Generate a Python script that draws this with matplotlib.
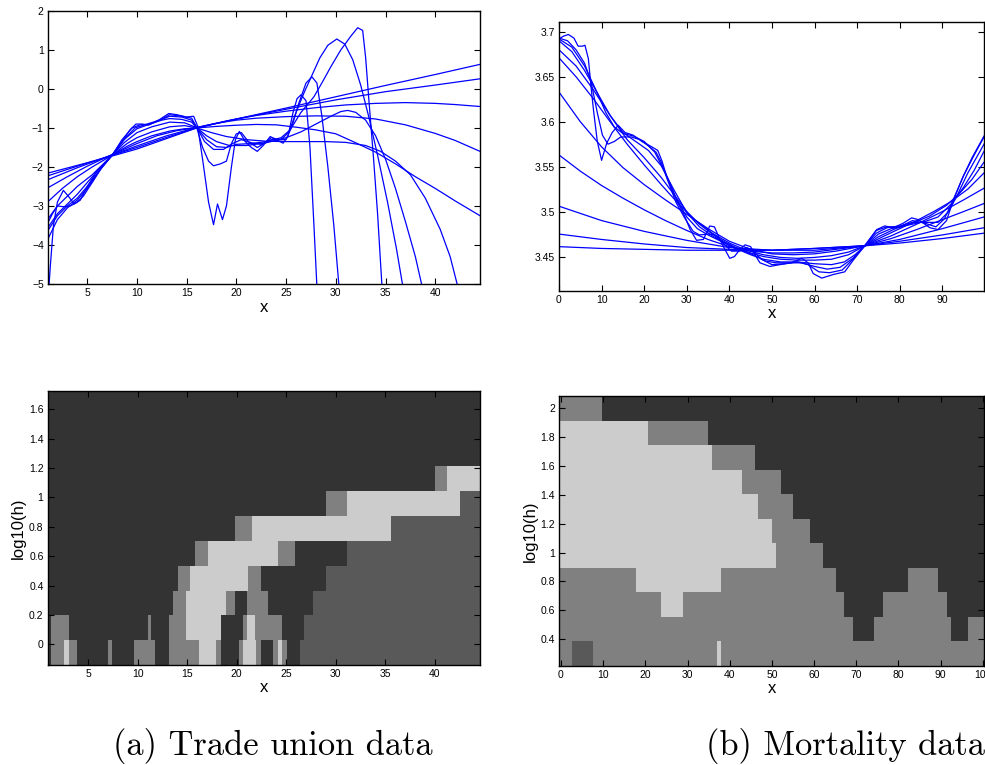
import numpy as np
import matplotlib
matplotlib.use("Agg")
import matplotlib.pyplot as plt
from matplotlib.colors import ListedColormap

# ---- family of smooths, trade union data (one list of (x, y) per bandwidth, small h first)
union_fits = [
    [(1.0, -5.6), (1.3, -4.5), (1.6, -3.5), (2.0, -2.9), (2.6, -2.6), (3.1, -2.75), (3.7, -2.95),
     (4.3, -2.85), (5.0, -2.5), (6.0, -2.1), (7.5, -1.7), (8.5, -1.35), (9.3, -1.05), (9.9, -0.9),
     (10.5, -0.9), (11.2, -0.92), (12.3, -0.78), (13.2, -0.63), (14.0, -0.66), (15.0, -0.72),
     (15.7, -0.7), (16.1, -0.95), (16.6, -1.8), (17.2, -2.9), (17.7, -3.48), (18.1, -2.95),
     (18.6, -3.35), (19.0, -3.0), (19.5, -2.0), (19.9, -1.3), (20.3, -1.09), (20.9, -1.35),
     (21.5, -1.5), (22.1, -1.6), (22.7, -1.45), (23.4, -1.22), (24.0, -1.3), (24.7, -1.39),
     (25.2, -1.2), (25.7, -0.6), (26.1, -0.25), (26.5, -0.15), (27.0, -0.3), (27.4, -1.5),
     (27.8, -3.5), (28.2, -5.6)],
    [(1.0, -3.45), (1.5, -3.2), (2.0, -3.0), (2.6, -3.02), (3.3, -3.0), (4.0, -2.9), (4.6, -2.75),
     (5.5, -2.4), (6.5, -2.0), (7.5, -1.7), (8.5, -1.3), (9.5, -1.0), (10.3, -0.92), (11.2, -0.92),
     (12.3, -0.8), (13.3, -0.66), (14.5, -0.7), (15.5, -0.75), (16.0, -0.98), (16.6, -1.5),
     (17.2, -1.85), (17.7, -1.97), (18.4, -1.92), (19.0, -1.85), (19.5, -1.4), (20.0, -1.15),
     (20.5, -1.12), (21.2, -1.35), (22.1, -1.5), (22.8, -1.4), (23.5, -1.25), (24.3, -1.3),
     (25.0, -1.3), (25.6, -0.95), (26.3, -0.35), (27.0, 0.15), (27.6, 0.31), (28.1, 0.15),
     (28.6, -0.7), (29.2, -2.0), (29.8, -3.5), (30.4, -5.3)],
    [(1.0, -3.87), (2.0, -3.35), (3.0, -3.05), (4.0, -2.85), (5.0, -2.55), (6.2, -2.1), (7.5, -1.7),
     (8.7, -1.3), (9.8, -1.0), (11.0, -0.9), (12.3, -0.8), (13.3, -0.7), (14.5, -0.72), (15.5, -0.8),
     (16.0, -0.98), (16.8, -1.35), (17.7, -1.55), (18.7, -1.55), (19.6, -1.4), (20.5, -1.3),
     (21.5, -1.38), (22.5, -1.42), (23.5, -1.3), (24.5, -1.3), (25.3, -1.1), (26.0, -0.6),
     (26.8, -0.1), (27.6, 0.35), (28.4, 0.8), (29.2, 1.12), (30.1, 1.28), (30.9, 1.15),
     (31.7, 0.75), (32.5, 0.1), (33.3, -0.7), (34.2, -1.7), (35.2, -2.9), (36.1, -4.1), (36.9, -5.3)],
    [(1.0, -3.65), (2.0, -3.25), (3.0, -3.0), (4.0, -2.8), (5.0, -2.5), (6.2, -2.1), (7.5, -1.7),
     (8.7, -1.3), (10.0, -1.02), (11.5, -0.88), (12.5, -0.8), (13.3, -0.76), (14.5, -0.78),
     (15.5, -0.85), (16.0, -0.99), (17.0, -1.3), (18.0, -1.48), (19.0, -1.5), (20.0, -1.42),
     (21.5, -1.4), (23.0, -1.35), (24.5, -1.25), (25.4, -1.05), (26.5, -0.6), (27.8, -0.2),
     (28.7, 0.2), (29.5, 0.57), (30.5, 1.0), (31.5, 1.35), (32.2, 1.57), (32.7, 1.5), (33.0, 0.8),
     (33.3, -0.2), (33.8, -1.8), (34.2, -3.2), (34.7, -5.3)],
    [(1.0, -3.57), (2.0, -3.2), (3.0, -2.95), (4.0, -2.7), (5.0, -2.4), (6.2, -2.05), (7.5, -1.7),
     (8.7, -1.38), (10.0, -1.12), (11.5, -0.97), (13.3, -0.85), (14.8, -0.87), (16.0, -0.99),
     (17.0, -1.2), (18.0, -1.35), (19.3, -1.45), (21.0, -1.45), (23.0, -1.38), (25.0, -1.25),
     (26.5, -1.1), (28.0, -0.9), (29.5, -0.7), (30.5, -0.58), (31.2, -0.55), (32.0, -0.6),
     (33.0, -0.8), (34.0, -1.2), (35.0, -1.8), (36.0, -2.55), (37.0, -3.4), (38.0, -4.3), (38.8, -5.2)],
    [(1.0, -3.35), (2.0, -3.0), (3.0, -2.75), (4.0, -2.5), (5.5, -2.2), (7.5, -1.7), (9.0, -1.4),
     (10.0, -1.25), (11.5, -1.1), (13.3, -0.97), (14.8, -0.94), (16.0, -1.0), (17.5, -1.12),
     (19.0, -1.22), (21.0, -1.3), (23.0, -1.34), (25.0, -1.35), (27.0, -1.35), (29.0, -1.35),
     (31.0, -1.37), (33.0, -1.45), (34.5, -1.6), (36.0, -1.85), (37.5, -2.2), (39.0, -2.8),
     (40.5, -3.6), (41.5, -4.3), (42.4, -5.2)],
    [(1.0, -2.90), (2.5, -2.55), (4.0, -2.25), (5.5, -2.0), (7.5, -1.7), (9.0, -1.47), (10.0, -1.35),
     (11.5, -1.2), (13.3, -1.08), (14.8, -1.02), (16.0, -1.0), (18.0, -0.96), (20.0, -0.93),
     (22.0, -0.91), (24.0, -0.92), (26.0, -0.98), (28.0, -1.05), (30.0, -1.15), (32.0, -1.38),
     (34.0, -1.62), (36.0, -1.92), (38.0, -2.25), (40.0, -2.55), (42.0, -2.87), (44.5, -3.25)],
    [(1.0, -2.54), (3.0, -2.25), (5.0, -1.98), (7.5, -1.68), (10.0, -1.4), (12.0, -1.2), (14.0, -1.07),
     (16.0, -0.99), (18.0, -0.88), (20.0, -0.8), (22.0, -0.75), (25.0, -0.71), (28.0, -0.69),
     (31.0, -0.7), (34.0, -0.77), (37.0, -0.92), (40.0, -1.14), (42.0, -1.32), (44.5, -1.6)],
    [(1.0, -2.33), (4.0, -2.02), (7.5, -1.69), (10.0, -1.46), (13.0, -1.2), (16.0, -0.99),
     (19.0, -0.82), (22.0, -0.68), (25.0, -0.57), (28.0, -0.48), (31.0, -0.41), (34.0, -0.37),
     (37.0, -0.35), (40.0, -0.37), (42.0, -0.4), (44.5, -0.45)],
    [(1.0, -2.23), (4.0, -1.98), (7.5, -1.7), (10.0, -1.5), (13.0, -1.24), (16.0, -1.0), (20.0, -0.77),
     (25.0, -0.52), (30.0, -0.28), (35.0, -0.07), (40.0, 0.1), (44.5, 0.26)],
    [(1.0, -2.16), (4.0, -1.96), (7.5, -1.72), (10.0, -1.54), (13.0, -1.27), (16.0, -1.0), (20.0, -0.77),
     (25.0, -0.49), (30.0, -0.2), (35.0, 0.09), (40.0, 0.37), (44.5, 0.63)],
]

# ---- family of smooths, mortality data
mort_fits = [
    [(0, 3.692), (1, 3.695), (2.2, 3.697), (3.5, 3.693), (4.5, 3.684), (5.5, 3.684), (6.1, 3.685),
     (6.9, 3.67), (7.5, 3.64), (8.1, 3.613), (9, 3.578), (10, 3.557), (11.2, 3.576), (12.5, 3.588),
     (13.9, 3.596), (15.5, 3.588), (17.4, 3.585), (19.5, 3.578), (21.8, 3.572), (23.2, 3.568),
     (24.2, 3.556), (25.3, 3.539), (27.6, 3.513), (29.5, 3.495), (30.8, 3.48), (32.3, 3.468),
     (33.9, 3.469), (34.8, 3.478), (35.4, 3.484), (36.5, 3.483), (37.5, 3.472), (38.6, 3.461),
     (40.1, 3.448), (41.2, 3.45), (42.5, 3.458), (43.7, 3.463), (45, 3.461), (46, 3.452),
     (47.2, 3.443), (49.5, 3.439), (51.9, 3.441), (54.5, 3.443), (57, 3.448), (58.5, 3.443),
     (59.7, 3.431), (61.7, 3.426), (64.4, 3.43), (67.1, 3.433), (69.1, 3.446), (71.8, 3.462),
     (74.6, 3.48), (76.5, 3.484), (78.5, 3.482), (80.8, 3.487), (82.8, 3.493), (84.4, 3.491),
     (87.1, 3.482), (89, 3.48), (91, 3.49), (92.6, 3.513), (94.9, 3.539), (97, 3.56), (99.8, 3.584)],
    [(0, 3.693), (2, 3.69), (4, 3.68), (6, 3.665), (7.5, 3.645), (9, 3.61), (10.2, 3.585),
     (11.5, 3.575), (13, 3.578), (14.5, 3.583), (17, 3.583), (19, 3.58), (21, 3.573), (22.8, 3.566),
     (24, 3.555), (25.5, 3.535), (27.5, 3.51), (29.5, 3.493), (31.5, 3.478), (33, 3.474),
     (35, 3.475), (36.5, 3.474), (38.5, 3.465), (40.5, 3.456), (42.5, 3.456), (44, 3.46),
     (45.5, 3.457), (47.5, 3.447), (50, 3.441), (53, 3.442), (56, 3.444), (58.5, 3.441),
     (61, 3.433), (63.5, 3.432), (66.5, 3.435), (69, 3.447), (71.8, 3.462), (74.5, 3.479),
     (77, 3.483), (80, 3.483), (83, 3.49), (86, 3.487), (88.5, 3.483), (90.5, 3.492),
     (92.5, 3.512), (95, 3.54), (97.5, 3.563), (99.8, 3.583)],
    [(0, 3.692), (3, 3.683), (6, 3.662), (9, 3.632), (11, 3.61), (13, 3.594), (15, 3.587),
     (17.5, 3.584), (20, 3.578), (22.5, 3.566), (25, 3.543), (27.5, 3.515), (30, 3.494),
     (32.5, 3.481), (35, 3.474), (38, 3.467), (41, 3.46), (43.5, 3.456), (46, 3.451), (48.5, 3.445),
     (51, 3.443), (54, 3.443), (57, 3.443), (60, 3.439), (63, 3.436), (66, 3.438), (69, 3.448),
     (71.8, 3.462), (74.5, 3.476), (77, 3.482), (80, 3.484), (83, 3.488), (86, 3.488), (89, 3.488),
     (91.5, 3.5), (93.5, 3.518), (96, 3.543), (99.8, 3.575)],
    [(0, 3.69), (3, 3.678), (6, 3.657), (9, 3.632), (12, 3.607), (15, 3.588), (18, 3.578),
     (21, 3.568), (24, 3.551), (27, 3.524), (30, 3.499), (33, 3.483), (36, 3.473), (39, 3.465),
     (42, 3.458), (45, 3.452), (48, 3.447), (52, 3.444), (56, 3.444), (60, 3.442), (64, 3.441),
     (67, 3.444), (69.5, 3.452), (71.8, 3.462), (75, 3.475), (78, 3.481), (82, 3.485), (86, 3.489),
     (89, 3.494), (92, 3.508), (95, 3.527), (97.5, 3.546), (99.8, 3.567)],
    [(0, 3.68), (4, 3.662), (8, 3.636), (12, 3.607), (16, 3.58), (20, 3.56), (24, 3.538), (27, 3.519),
     (30, 3.5), (33, 3.486), (36, 3.475), (39, 3.466), (42, 3.459), (45, 3.454), (48, 3.45),
     (52, 3.447), (56, 3.446), (60, 3.446), (64, 3.447), (68, 3.452), (71.8, 3.462), (75, 3.472),
     (79, 3.481), (83, 3.487), (87, 3.495), (91, 3.507), (94, 3.52), (97, 3.536), (99.8, 3.555)],
    [(0, 3.671), (4, 3.65), (8, 3.626), (12, 3.6), (16, 3.575), (20, 3.552), (24, 3.53), (28, 3.509),
     (32, 3.49), (36, 3.476), (40, 3.465), (44, 3.457), (48, 3.452), (52, 3.449), (56, 3.448),
     (60, 3.449), (64, 3.451), (68, 3.455), (71.8, 3.462), (76, 3.472), (80, 3.481), (84, 3.49),
     (88, 3.5), (92, 3.511), (96, 3.525), (99.8, 3.543)],
    [(0, 3.633), (5, 3.6), (10, 3.572), (15, 3.549), (20, 3.53), (25, 3.513), (30, 3.497),
     (35, 3.481), (40, 3.467), (45, 3.458), (50, 3.453), (55, 3.452), (60, 3.453), (65, 3.456),
     (71.8, 3.462), (78, 3.473), (84, 3.486), (90, 3.5), (95, 3.513), (99.8, 3.526)],
    [(0, 3.563), (5, 3.545), (10, 3.529), (15, 3.515), (20, 3.502), (25, 3.49), (30, 3.479),
     (35, 3.469), (40, 3.461), (45, 3.456), (50, 3.454), (55, 3.454), (60, 3.455), (65, 3.458),
     (71.8, 3.462), (78, 3.47), (84, 3.48), (90, 3.491), (95, 3.5), (99.8, 3.509)],
    [(0, 3.506), (10, 3.49), (20, 3.478), (30, 3.468), (40, 3.46), (50, 3.457), (60, 3.457),
     (71.8, 3.462), (80, 3.469), (90, 3.481), (99.8, 3.494)],
    [(0, 3.475), (10, 3.469), (20, 3.464), (30, 3.46), (40, 3.458), (50, 3.457), (60, 3.459),
     (71.8, 3.462), (80, 3.467), (90, 3.474), (99.8, 3.482)],
    [(0, 3.461), (10, 3.459), (20, 3.458), (30, 3.457), (40, 3.457), (50, 3.457), (60, 3.459),
     (71.8, 3.462), (80, 3.465), (90, 3.47), (99.8, 3.476)],
]

# ---- SiZer maps: one row per bandwidth (bottom to top), run codes and x breakpoints
# D = dark, M = mid dark, G = gray, L = light
union_logh = [-0.058, 0.112, 0.282, 0.451, 0.621, 0.791, 0.961, 1.131, 1.300, 1.470, 1.640]
union_codes = ["DGLGDGDGDGLGDGLGDGLGDM", "DGDGDGLDGLGDM", "DGLGDGDM", "DGLGDM", "DGLGDM",
               "DGLM", "DGLM", "DGL", "D", "D", "D"]
union_breaks = [
    [1.21, 2.53, 3.04, 3.85, 7.03, 7.37, 9.63, 11.76, 13.18, 16.23, 17.95, 18.46, 20.22,
     20.62, 21.91, 22.42, 23.70, 24.14, 24.55, 25.05, 26.37],
    [1.25, 3.04, 10.99, 11.32, 13.18, 14.87, 18.43, 20.62, 21.06, 21.88, 24.55, 26.75],
    [13.59, 14.87, 18.87, 19.78, 21.06, 23.19, 27.66],
    [14.03, 15.31, 21.10, 22.42, 29.01],
    [15.82, 17.14, 24.14, 25.87, 31.14],
    [19.78, 21.50, 35.61],
    [29.01, 31.14, 42.61],
    [40.0, 41.29],
    [], [], [],
]

mort_logh = [0.301, 0.471, 0.641, 0.811, 0.981, 1.151, 1.320, 1.490, 1.660, 1.830, 2.000]
mort_codes = ["GMGLG", "GDGDG", "GLGDGD", "GLGDGD", "LGD", "LGD", "LGD", "LGD", "LGD", "LGD", "GD"]
mort_breaks = [
    [2.69, 7.51, 37.06, 37.85],
    [69.30, 74.19, 92.45, 96.40],
    [23.70, 28.84, 67.08, 76.41, 91.42],
    [17.78, 37.93, 65.19, 82.33, 89.29],
    [50.96, 62.18],
    [49.94, 59.02],
    [46.78, 54.99],
    [42.83, 52.15],
    [35.71, 45.99],
    [20.54, 34.77],
    [9.64],
]

captions = ["(a) Trade union data", "(b) Mortality data"]

plt.rcParams["font.family"] = ["Liberation Sans", "DejaVu Sans"]
map_cmap = ListedColormap(["#333333", "#595959", "#808080", "#cccccc"])
code_value = {"D": 0, "M": 1, "G": 2, "L": 3}


def fmt(v):
    return f"{v:g}".replace("-", "\u2212")


def style(ax, xlim, ylim, xticks, yticks):
    ax.set_xlim(xlim)
    ax.set_ylim(ylim)
    ax.set_xticks(xticks)
    ax.set_xticklabels([fmt(v) for v in xticks])
    ax.set_yticks(yticks)
    ax.set_yticklabels([fmt(v) for v in yticks])
    ax.tick_params(direction="in", top=True, right=True, length=4, width=0.8,
                   labelsize=7.5, pad=3)
    for s in ax.spines.values():
        s.set_linewidth(1.0)
    ax.set_xlabel("x", fontsize=12, labelpad=1)


def draw_map(ax, logh, codes, breaks, xlim):
    step = logh[1] - logh[0]
    for lh, row_codes, row_breaks in zip(logh, codes, breaks):
        edges = [xlim[0]] + row_breaks + [xlim[1]]
        vals = np.array([[code_value[c] for c in row_codes]])
        ax.pcolormesh(edges, [lh - step / 2, lh + step / 2], vals, cmap=map_cmap,
                      vmin=0, vmax=3, shading="flat", linewidth=0, antialiased=False)


fig = plt.figure(figsize=(9.85, 7.65), dpi=100)

ax1 = fig.add_axes([0.0487, 0.6288, 0.4386, 0.3569])
for fit in union_fits:
    xs, ys = zip(*fit)
    ax1.plot(xs, ys, color="#0000ff", lw=0.9)
style(ax1, (1.05, 44.5), (-5, 2), [5, 10, 15, 20, 25, 30, 35, 40], list(range(-5, 3)))

ax2 = fig.add_axes([0.5675, 0.6200, 0.4315, 0.3508])
for fit in mort_fits:
    xs, ys = zip(*fit)
    ax2.plot(xs, ys, color="#0000ff", lw=0.9)
style(ax2, (0, 99.8), (3.412, 3.7105), list(range(0, 100, 10)),
      [3.45, 3.5, 3.55, 3.6, 3.65, 3.7])

ax3 = fig.add_axes([0.0484, 0.1311, 0.4391, 0.3578])
u_xlim = (0.9, 44.6)
draw_map(ax3, union_logh, union_codes, union_breaks, u_xlim)
style(ax3, u_xlim, (-0.139, 1.725), [5, 10, 15, 20, 25, 30, 35, 40],
      [0, 0.2, 0.4, 0.6, 0.8, 1, 1.2, 1.4, 1.6])
ax3.set_ylabel("log10(h)", fontsize=12, labelpad=2)

ax4 = fig.add_axes([0.5678, 0.1298, 0.4313, 0.3526])
m_xlim = (-0.4, 100.3)
draw_map(ax4, mort_logh, mort_codes, mort_breaks, m_xlim)
style(ax4, m_xlim, (0.2165, 2.085), list(range(0, 101, 10)),
      [0.4, 0.6, 0.8, 1, 1.2, 1.4, 1.6, 1.8, 2])
ax4.set_ylabel("log10(h)", fontsize=12, labelpad=2)

fig.text(0.2765, 0.013, captions[0], family="cmr10", fontsize=24.8, ha="center", va="baseline")
fig.text(0.8585, 0.013, captions[1], family="cmr10", fontsize=24.8, ha="center", va="baseline")

fig.savefig("out.png", dpi=100)
